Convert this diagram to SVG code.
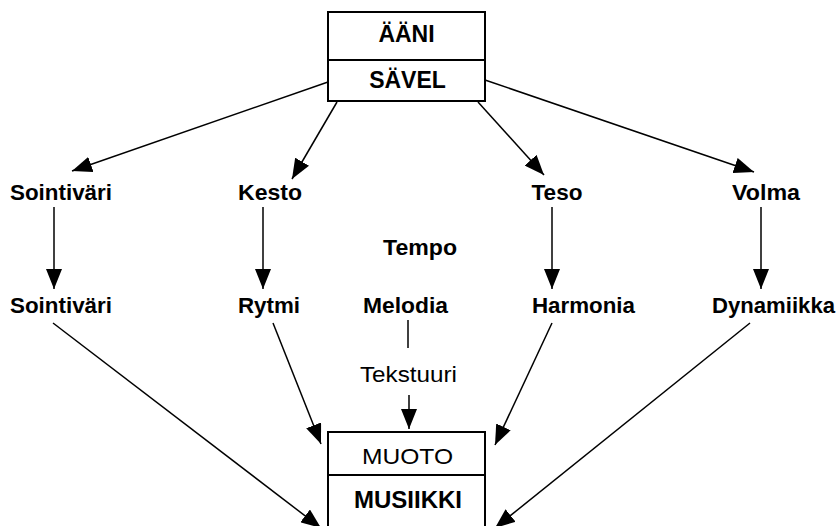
<svg xmlns="http://www.w3.org/2000/svg" width="837" height="526" viewBox="0 0 837 526">
<defs>
<marker id="ah" markerUnits="userSpaceOnUse" markerWidth="20" markerHeight="16" refX="20" refY="8" orient="auto" viewBox="0 0 20 16">
<path d="M0,0 L20,8 L0,16 z" fill="#000"/>
</marker>
<style>
.box{fill:#fff;stroke:#000;stroke-width:2}
.c{stroke:#000;stroke-width:1.5;fill:none}
.a{marker-end:url(#ah)}
.lb{font-family:"Liberation Sans",Arial,sans-serif;font-weight:bold;font-size:22px;text-anchor:middle;fill:#000}
.lr{font-family:"Liberation Sans",Arial,sans-serif;font-size:22px;text-anchor:middle;fill:#000}
.bb{font-family:"Liberation Sans",Arial,sans-serif;font-weight:bold;font-size:23px;text-anchor:middle;fill:#000}
</style>
</defs>
<rect width="837" height="526" fill="#fff"/>
<g id="connectors">
<line class="c a" x1="328" y1="82" x2="72" y2="171"/>
<line class="c a" x1="337" y1="102" x2="292" y2="179"/>
<line class="c a" x1="478" y1="102" x2="544" y2="175"/>
<line class="c a" x1="485" y1="80" x2="754" y2="172"/>
<line class="c a" x1="54" y1="207" x2="54" y2="289"/>
<line class="c a" x1="263" y1="207" x2="263" y2="289"/>
<line class="c a" x1="552" y1="207" x2="552" y2="289"/>
<line class="c a" x1="761" y1="207" x2="761" y2="289"/>
<line class="c" x1="408" y1="320" x2="408" y2="348"/>
<line class="c a" x1="409" y1="395" x2="409" y2="429"/>
<line class="c a" x1="273" y1="323" x2="321" y2="444"/>
<line class="c a" x1="552" y1="323" x2="495" y2="445"/>
<line class="c a" x1="53" y1="323" x2="321" y2="528"/>
<line class="c a" x1="750" y1="323" x2="495" y2="528"/>
</g>
<g id="n-aani">
<rect class="box" x="328" y="12" width="157" height="89"/>
<line x1="328" y1="60" x2="485" y2="60" stroke="#000" stroke-width="2"/>
<text class="bb" x="406.5" y="42">ÄÄNI</text>
<text class="bb" x="407.5" y="88">SÄVEL</text>
</g>
<g id="n-sointivari1"><text class="lb" x="61" y="200" textLength="102" lengthAdjust="spacingAndGlyphs">Sointiväri</text></g>
<g id="n-kesto"><text class="lb" x="270" y="200" textLength="64" lengthAdjust="spacingAndGlyphs">Kesto</text></g>
<g id="n-teso"><text class="lb" x="557" y="200" textLength="51" lengthAdjust="spacingAndGlyphs">Teso</text></g>
<g id="n-volma"><text class="lb" x="766" y="200" textLength="68" lengthAdjust="spacingAndGlyphs">Volma</text></g>
<g id="n-tempo"><text class="lb" x="420" y="255" textLength="74" lengthAdjust="spacingAndGlyphs">Tempo</text></g>
<g id="n-sointivari2"><text class="lb" x="61" y="313" textLength="102" lengthAdjust="spacingAndGlyphs">Sointiväri</text></g>
<g id="n-rytmi"><text class="lb" x="269" y="313" textLength="62" lengthAdjust="spacingAndGlyphs">Rytmi</text></g>
<g id="n-melodia"><text class="lb" x="405.5" y="313" textLength="85" lengthAdjust="spacingAndGlyphs">Melodia</text></g>
<g id="n-harmonia"><text class="lb" x="583.5" y="313" textLength="103" lengthAdjust="spacingAndGlyphs">Harmonia</text></g>
<g id="n-dynamiikka"><text class="lb" x="773.5" y="313" textLength="123" lengthAdjust="spacingAndGlyphs">Dynamiikka</text></g>
<g id="n-tekstuuri"><text class="lr" x="408.5" y="382" textLength="97" lengthAdjust="spacingAndGlyphs">Tekstuuri</text></g>
<g id="n-muoto">
<rect class="box" x="328" y="432" width="157" height="100"/>
<line x1="328" y1="475" x2="485" y2="475" stroke="#000" stroke-width="2"/>
<text class="lr" x="407.5" y="464" textLength="91" lengthAdjust="spacingAndGlyphs">MUOTO</text>
<text class="bb" x="408" y="508" textLength="108" lengthAdjust="spacingAndGlyphs">MUSIIKKI</text>
</g>
</svg>
